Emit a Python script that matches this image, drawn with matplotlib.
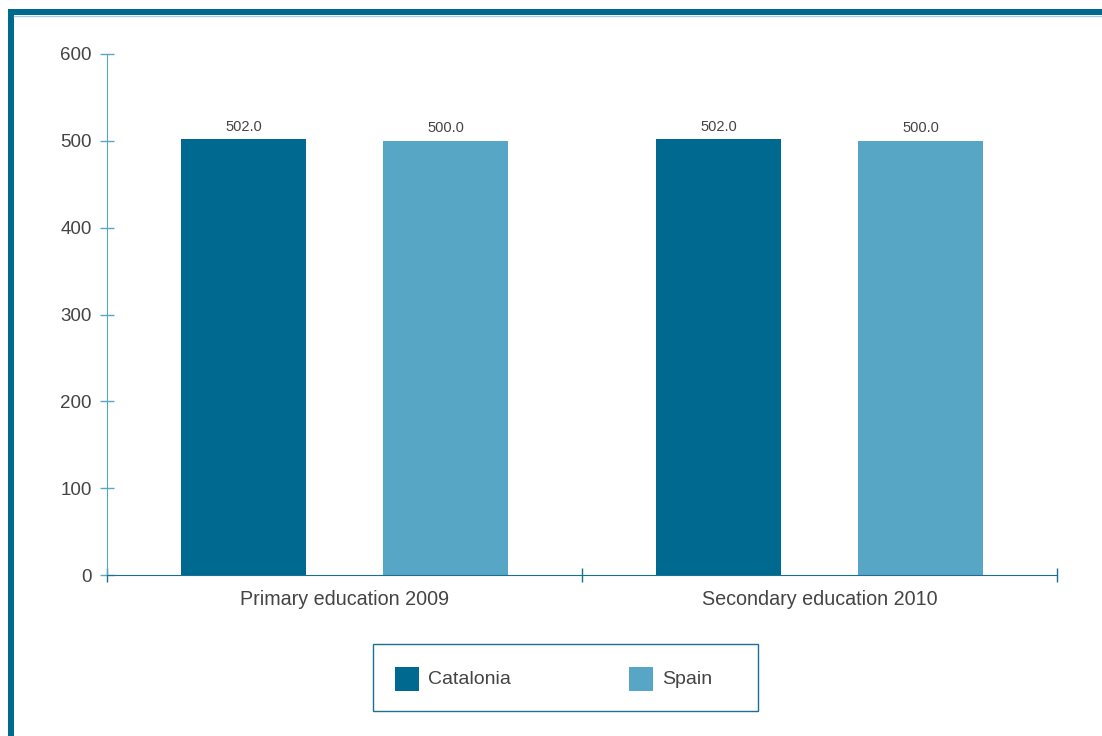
import matplotlib
matplotlib.use("Agg")
import matplotlib.pyplot as plt
from matplotlib.patches import Rectangle
from matplotlib.lines import Line2D
import numpy as np

plt.rcParams['font.family'] = ['Liberation Sans', 'DejaVu Sans']

categories = ["Primary education 2009", "Secondary education 2010"]
series_names = ["Catalonia", "Spain"]
catalonia = [502.0, 502.0]
spain = [500.0, 500.0]
yticks = [0, 100, 200, 300, 400, 500, 600]

dark = "#006990"
light = "#58a6c6"
text_col = "#444444"

W, H = 1102, 736
fig = plt.figure(figsize=(W / 100, H / 100), dpi=100)
ax = fig.add_axes([107 / W, 1 - 575 / H, 950 / W, 521 / H])

x = np.arange(len(categories))
width = 0.265
off = 0.2126
b1 = ax.bar(x - off, catalonia, width, color=dark, zorder=2)
b2 = ax.bar(x + off, spain, width, color=light, zorder=2)

for bars, vals in ((b1, catalonia), (b2, spain)):
    for rect, v in zip(bars, vals):
        ax.annotate(f"{v:.1f}", (rect.get_x() + rect.get_width() / 2, v),
                    xytext=(0, 4), textcoords="offset points",
                    ha="center", va="bottom", fontsize=10.5, color=text_col)

ax.set_xlim(-0.5, 1.5)
ax.set_ylim(0, 600)
ax.set_yticks(yticks)
ax.set_yticklabels([str(t) for t in yticks], fontsize=13.5, color=text_col)
ax.tick_params(axis="y", direction="inout", length=10, width=1, color=light, pad=6)

# category labels centred, boundary ticks at the group edges
ax.set_xticks([-0.5, 0.5, 1.5])
ax.set_xticklabels([])
ax.tick_params(axis="x", direction="inout", length=9.5, width=1, color="#1a6f95")
for xi, lab in zip(x, categories):
    ax.annotate(lab, (xi, 0), xytext=(0, -11), textcoords="offset points",
                ha="center", va="top", fontsize=14.2, color=text_col)

for s in ("top", "right"):
    ax.spines[s].set_visible(False)
ax.spines["left"].set_color(light)
ax.spines["bottom"].set_color("#1a6f95")
ax.spines["bottom"].set_zorder(3)

# page frame: thick rule along top and left edge
fig.add_artist(Rectangle((8 / W, 1 - 15 / H), 1, 6 / H, transform=fig.transFigure,
                         facecolor=dark, edgecolor="none"))
fig.add_artist(Line2D([14 / W, 1], [1 - 15.5 / H, 1 - 15.5 / H], transform=fig.transFigure,
                      color="#a9cfe0", lw=1))
fig.add_artist(Rectangle((8 / W, 0), 6 / W, 1 - 9 / H, transform=fig.transFigure,
                         facecolor=dark, edgecolor="none"))

# legend box
fig.add_artist(Rectangle((373 / W, 1 - 711 / H), 385 / W, 67 / H, transform=fig.transFigure,
                         facecolor="white", edgecolor="#1a6f95", lw=1))
for name, col, px in zip(series_names, [dark, light], [395, 629]):
    fig.add_artist(Rectangle((px / W, 1 - 691 / H), 24 / W, 24 / H, transform=fig.transFigure,
                             facecolor=col, edgecolor="none"))
    fig.text((px + 33) / W, 1 - 679 / H, name, ha="left", va="center",
             fontsize=14, color=text_col)

fig.savefig("out.png", dpi=100)
